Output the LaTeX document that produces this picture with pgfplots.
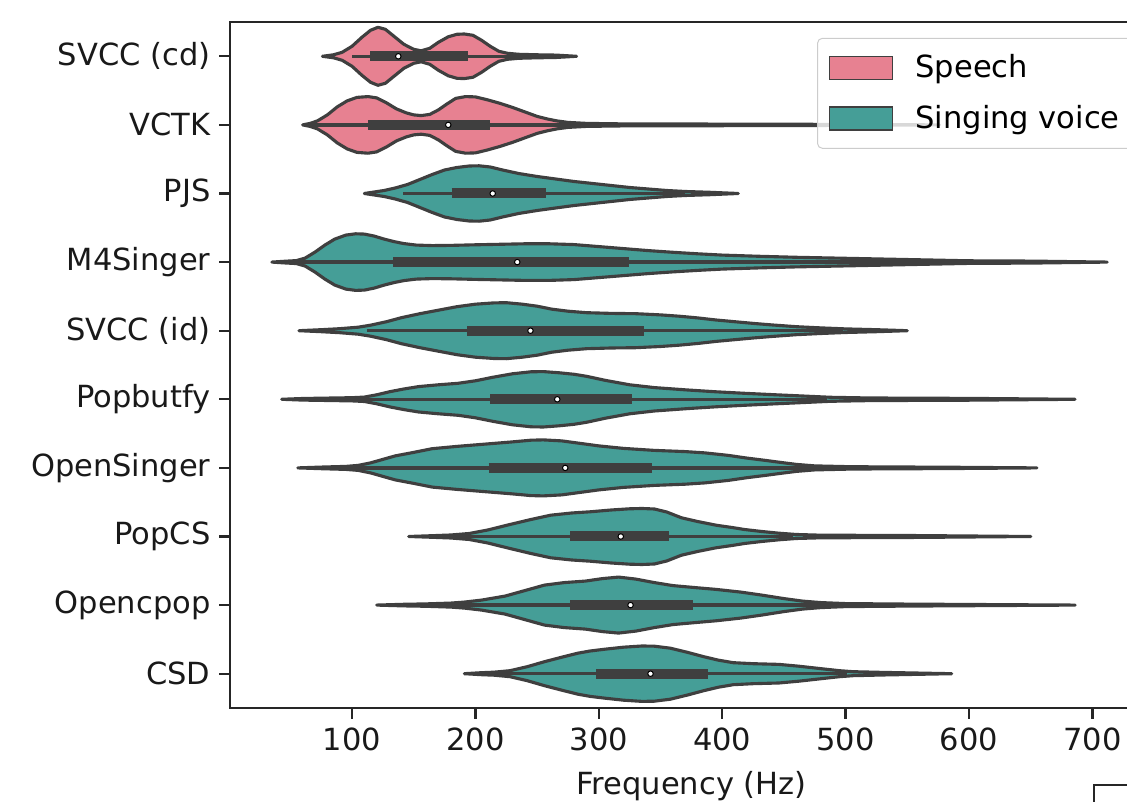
\documentclass[border=0pt]{standalone}
\usepackage{fontspec}
\setmainfont{DejaVu Sans}
\usepackage{pgfplots}
\pgfplotsset{compat=1.18}
\usepgfplotslibrary{fillbetween}
\usepackage{pgfplotstable}

\definecolor{speech}{RGB}{231,129,145}
\definecolor{sing}{RGB}{69,158,151}
\definecolor{outl}{RGB}{63,63,63}

% violin outlines: frequency (Hz) and half-width (px, 68.6 px = one category)
\pgfplotstableread{
f w
76 0
85 1.5
92 4
100 10
108 19
115 26
121 29
127 27
134 20
142 12
150 7
156 5.5
163 8
170 14
178 19.5
185 22
191 22.3
198 21
205 16
212 10
219 5
226 3
235 2
250 1.5
265 1.2
282 0
}\svcccd
\pgfplotstableread{
f w
60 0
66 1.5
72 4
80 10
88 18
96 24
104 27.5
113 28.3
120 27
128 22
136 16
144 12
150 10
156 9.3
163 10.5
170 15
177 21
184 26.5
192 28.3
200 28
210 25
220 21.5
230 17.5
240 13
250 8.5
258 6
266 4
275 2.5
290 1.5
320 1
400 0.8
500 0.5
576 0
}\vctk
\pgfplotstableread{
f w
110 0
118 1.5
126 3
135 5.5
145 9
155 14
165 19
175 23.5
185 26
195 27.5
203 27.7
212 26.5
222 23.5
235 20
250 17
265 14.5
280 12
295 10
310 8
325 6
340 4.5
355 3
370 2
390 1.2
413 0
}\pjs
\pgfplotstableread{
f w
35 0
45 0.8
55 1.5
62 4
70 10
78 17
86 23
95 27
103 28.3
110 28
118 26
126 23
134 20.5
142 18.5
152 17
165 16.5
180 16.7
200 17.3
220 17.8
240 18.3
260 18.3
280 17.5
300 15.5
320 13.5
340 11.5
360 9.8
380 8.3
400 7
430 5.8
460 4.8
500 3.8
540 2.8
580 1.8
600 1.3
650 1
712 0
}\mfoursinger
\pgfplotstableread{
f w
57 0
75 1
90 2
105 3.5
115 5.5
128 9
140 13
155 17
170 20.5
185 24
200 26.5
215 27.8
225 28
238 26.5
250 24.5
262 21.5
275 19.5
290 18
310 17.3
330 17
350 15.8
365 14.5
380 12.8
395 10.7
410 9
425 7.3
440 5.8
460 4
480 2.8
500 1.8
525 1
550 0
}\svccid
\pgfplotstableread{
f w
43 0
60 0.8
80 1.2
100 1.6
110 2.2
120 4.5
131 7.7
142 10.3
154 12.7
170 14.5
186 16
200 18.5
214 22
230 25.5
245 27.5
255 27.7
268 26.5
280 25
290 23
305 19
325 14.5
345 11.7
372 9.3
395 7.5
418 6
440 4.7
465 3.3
488 2
520 1.3
600 0.9
686 0
}\popbutfy
\pgfplotstableread{
f w
56 0
75 0.8
95 1.5
105 2.5
115 5
125 8.5
135 12
150 15.5
165 19.2
185 21.5
210 24
230 26
245 27.7
255 28
270 27
285 24.5
300 22
320 19.5
345 17.5
370 16.3
386 15
405 12.5
420 9.8
435 7.5
446 5.7
460 3.5
475 2
500 1.3
525 1
580 0.7
655 0
}\opensinger
\pgfplotstableread{
f w
146 0
165 0.8
180 1.5
195 3
210 6.5
228 12
245 17
261 21.3
278 23.5
293 24.7
310 26.5
325 27.7
335 28
345 27.5
355 24.5
367 18.7
380 15
395 11.3
408 9
418 7
432 5
446 3.3
460 2
480 1.3
550 1
650 0
}\popcs
\pgfplotstableread{
f w
120 0
142 0.8
160 1.2
180 2
191 3
205 5
224 9
240 14.5
256 20
272 22.5
289 24
303 26.5
316 28
330 26
345 22.5
360 19.5
378 17.5
395 15.7
415 13
432 10
450 6.5
465 4
480 2.5
500 1.5
550 1
686 0
}\opencpop
\pgfplotstableread{
f w
191 0
205 1
215 1.5
228 3
242 7
256 12
270 16.5
283 20.5
293 22.7
305 24.5
320 26.5
335 27.7
345 27.5
358 25.5
372 21.3
385 17
397 13.5
409 11
425 10
446 9.3
462 7.5
478 5.3
495 3
506 2
530 1.3
586 0
}\csd

% #1 table, #2 row, #3 fill colour
\newcommand{\violin}[3]{%
  \addplot[name path=up#2, draw=none, forget plot] table[x=f, y expr=#2-\thisrow{w}/68.6] {#1};
  \addplot[name path=lo#2, draw=none, forget plot] table[x=f, y expr=#2+\thisrow{w}/68.6] {#1};
  \addplot[fill=#3, draw=outl, line width=1.25pt, line join=round, forget plot] fill between[of=up#2 and lo#2];
}
% #1 row, #2 lower whisker, #3 q1, #4 median, #5 q3, #6 upper whisker
\newcommand{\innerbox}[6]{%
  \addplot[outl, line width=1.4pt, forget plot] coordinates {(#2,#1) (#6,#1)};
  \addplot[outl, line width=4pt, forget plot] coordinates {(#3,#1) (#5,#1)};
  \addplot[only marks, mark=*, mark size=1.1pt, mark options={fill=white, draw=none}, forget plot] coordinates {(#4,#1)};
}

\begin{document}
\begin{tikzpicture}
\begin{axis}[
  at={(0,0)}, anchor=south west,
  scale only axis, width=369.2pt, height=274.4pt,
  xmin=1.1, xmax=749.1, ymin=-0.5, ymax=9.5, y dir=reverse,
  xtick={100,200,...,700}, ytick={0,...,9},
  yticklabels={SVCC (cd),VCTK,PJS,M4Singer,SVCC (id),Popbutfy,OpenSinger,PopCS,Opencpop,CSD},
  xtick pos=lower, ytick pos=left,
  tick align=outside, major tick length=4.3pt,
  tick style={black!85, line width=0.9pt},
  axis line style={black!85, line width=0.9pt},
  tick label style={font=\fontsize{12.2}{14}\selectfont, text=black!90},
  /pgf/number format/assume math mode=true,
  xlabel={Frequency (Hz)},
  xlabel style={yshift=-1.4pt},
  label style={font=\fontsize{12.2}{14}\selectfont, text=black!90},
  legend style={at={(0.636,0.977)}, anchor=north west, draw=black!20,
    rounded corners=2pt, fill=white, fill opacity=0.8, text opacity=1,
    font=\fontsize{12.2}{14}\selectfont, inner xsep=4.5pt, inner ysep=4.6pt,
    row sep=5.3pt, /tikz/every odd column/.append style={column sep=7pt}},
  legend cell align=left,
  legend image code/.code={\draw[#1, line width=0.5pt, sharp corners, fill opacity=1, draw opacity=1] (0pt,-4.6pt) rectangle (25.2pt,4.6pt);},
]
  \violin{\svcccd}{0}{speech}
  \violin{\vctk}{1}{speech}
  \violin{\pjs}{2}{sing}
  \violin{\mfoursinger}{3}{sing}
  \violin{\svccid}{4}{sing}
  \violin{\popbutfy}{5}{sing}
  \violin{\opensinger}{6}{sing}
  \violin{\popcs}{7}{sing}
  \violin{\opencpop}{8}{sing}
  \violin{\csd}{9}{sing}

  \innerbox{0}{100}{114.6}{137.5}{193.7}{260}
  \innerbox{1}{62}{113.2}{178}{211.8}{360}
  \innerbox{2}{141.6}{180.8}{214}{257.2}{370}
  \innerbox{3}{55}{133.3}{233.9}{324.3}{594}
  \innerbox{4}{112}{193.5}{244.6}{336.3}{498}
  \innerbox{5}{61.4}{212}{266.3}{327}{485}
  \innerbox{6}{75.3}{210.7}{272.8}{342.8}{524}
  \innerbox{7}{173.6}{277}{317.8}{357.2}{457.6}
  \innerbox{8}{142.5}{277}{325.7}{376.7}{507.6}
  \innerbox{9}{214.4}{297.8}{341.9}{388.7}{501}

  \addlegendimage{fill=speech, draw=outl}
  \addlegendentry{Speech}
  \addlegendimage{fill=sing, draw=outl}
  \addlegendentry{Singing voice}
\end{axis}
% corner of the neighbouring panel that shows at the lower right
\draw[black!85, line width=0.9pt] (345.6pt,-45pt) -- (345.6pt,-30.8pt) -- (380pt,-30.8pt);
\pgfresetboundingbox
\useasboundingbox (-92pt,-37.6pt) rectangle (358.8pt,283.2pt);
\end{tikzpicture}
\end{document}
